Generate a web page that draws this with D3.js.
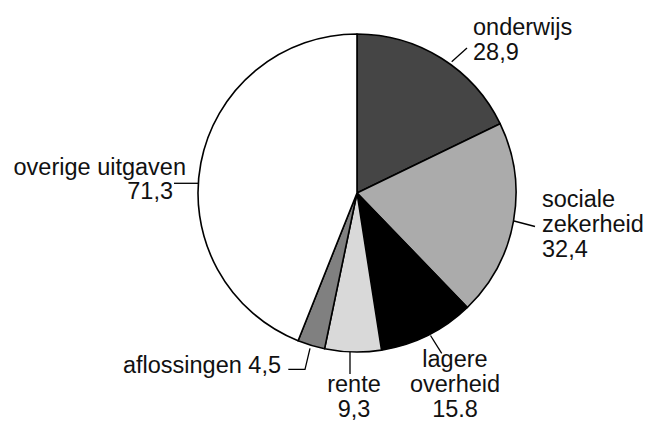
<!DOCTYPE html>
<html><head><meta charset="utf-8">
<script src="https://cdn.jsdelivr.net/npm/d3@7"></script>
<style>html,body{margin:0;padding:0;background:#fff;}svg{display:block;}</style>
</head><body>
<svg id="chart" width="645" height="421"></svg>
<script>
// Data
const categories = ["onderwijs", "sociale zekerheid", "lagere overheid", "rente", "aflossingen", "overige uitgaven"];
const values = [28.9, 32.4, 15.8, 9.3, 4.5, 71.3];
const valueLabels = ["28,9", "32,4", "15.8", "9,3", "4,5", "71,3"];
const colors = ["#454545", "#ababab", "#000000", "#d9d9d9", "#808080", "#ffffff"];

// Layout (label placement relative to pie centre)
const labelLayout = [
  {leader: [[94.7,-131.3],[110,-145]], x: 116, y: -158, anchor: "start", lines: d => ["onderwijs", d]},
  {leader: [[157,28],[178,33.5]], x: 185, y: 13.7, anchor: "start", lines: d => ["sociale", "zekerheid", d]},
  {leader: [[73.5,142.5],[84.7,160.3]], x: 98, y: 174, anchor: "middle", lines: d => ["lagere", "overheid", d]},
  {leader: [[-7,159],[-7,181]], x: -3, y: 198.7, anchor: "middle", lines: d => ["rente", d]},
  {leader: [[-47,155.3],[-52,176.3],[-68.7,176.3]], x: -76, y: 180.3, anchor: "end", lines: d => ["aflossingen " + d]},
  {leader: [[-183,-9.7],[-159,-9.7]], x: -171, y: -18, anchor: "end", lines: d => ["overige uitgaven"], extra: {x: -184, y: 6.3}}
];

const cx = 357, cy = 193, R = 159;
const fontSize = 23.5, lineH = 25;

const svg = d3.select("#chart");
const g = svg.append("g").attr("transform", `translate(${cx},${cy})`);

const pie = d3.pie().sort(null).value(d => d)(values);
const arc = d3.arc().innerRadius(0).outerRadius(R);

g.selectAll("path.slice").data(pie).join("path")
  .attr("class", "slice")
  .attr("d", arc)
  .attr("fill", (d, i) => colors[i])
  .attr("stroke", "#000")
  .attr("stroke-width", 1.6)
  .attr("stroke-linejoin", "round");

const line = d3.line();
labelLayout.forEach((L, i) => {
  g.append("path").attr("d", line(L.leader)).attr("fill", "none")
    .attr("stroke", "#000").attr("stroke-width", 1.3);
  const t = g.append("text")
    .attr("font-family", "'Liberation Sans', Arial, sans-serif")
    .attr("font-size", fontSize).attr("fill", "#111")
    .attr("text-anchor", L.anchor);
  L.lines(valueLabels[i]).forEach((s, k) => {
    t.append("tspan").attr("x", L.x).attr("y", L.y + k * lineH).text(s);
  });
  if (L.extra) {
    g.append("text")
      .attr("font-family", "'Liberation Sans', Arial, sans-serif")
      .attr("font-size", fontSize).attr("fill", "#111")
      .attr("text-anchor", "end")
      .attr("x", L.extra.x).attr("y", L.extra.y)
      .text(valueLabels[i]);
  }
});
</script>
</body></html>
